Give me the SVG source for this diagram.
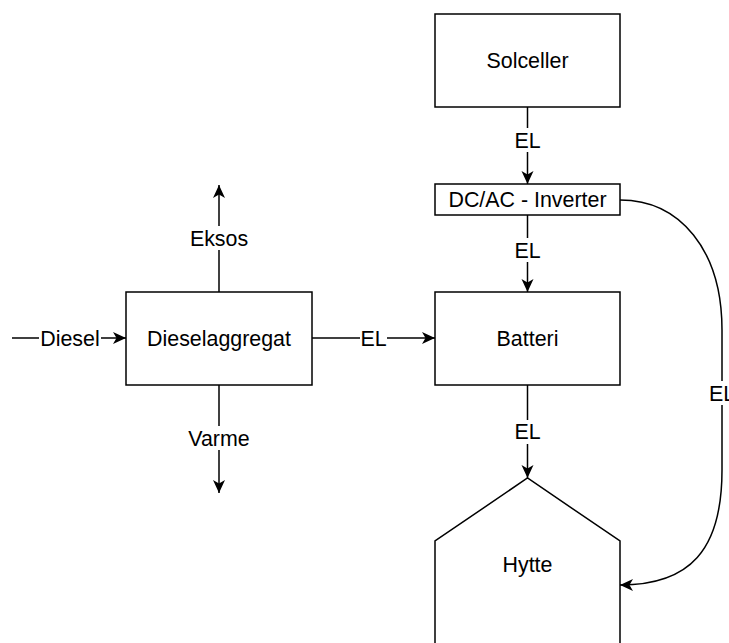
<svg xmlns="http://www.w3.org/2000/svg" width="729" height="643" viewBox="0 0 729 643">
<style>
.box{fill:#fff;stroke:#000;stroke-width:1.5}
.edge{fill:none;stroke:#000;stroke-width:1.5}
.t{font-family:"Liberation Sans",Arial,sans-serif;font-size:21.4px;fill:#000;text-anchor:middle}
.bg{fill:#fff}
</style>
<defs>
<marker id="arr" markerUnits="userSpaceOnUse" markerWidth="14" markerHeight="14" viewBox="-14 -7 14 14" refX="0" refY="0" orient="auto">
<path d="M0,0 L-13,-6 L-9.5,0 L-13,6 Z" fill="#000"/>
</marker>
</defs>
<g id="edges">
<path class="edge" d="M527.5,107 L527.5,184" marker-end="url(#arr)"/>
<path class="edge" d="M527.5,215 L527.5,292" marker-end="url(#arr)"/>
<path class="edge" d="M527.5,385 L527.5,478" marker-end="url(#arr)"/>
<path class="edge" d="M12,338 L126,338" marker-end="url(#arr)"/>
<path class="edge" d="M312,338 L435,338" marker-end="url(#arr)"/>
<path class="edge" d="M219,292 L219,185" marker-end="url(#arr)"/>
<path class="edge" d="M219,385 L219,493" marker-end="url(#arr)"/>
<path class="edge" d="M620,200 C680,200 722,250 722,330 L722,470 C722,550 690,585 620,585" marker-end="url(#arr)"/>
<rect class="bg" x="514" y="128" width="27" height="24"/>
<text class="t" x="527.5" y="147.7">EL</text>
<rect class="bg" x="514" y="238" width="27" height="24"/>
<text class="t" x="527.5" y="257.7">EL</text>
<rect class="bg" x="514" y="420" width="27" height="24"/>
<text class="t" x="527.5" y="439.4">EL</text>
<rect class="bg" x="39" y="326" width="62" height="24"/>
<text class="t" x="70" y="345.7">Diesel</text>
<rect class="bg" x="360" y="326" width="27" height="24"/>
<text class="t" x="373.5" y="345.7">EL</text>
<rect class="bg" x="189" y="226" width="60" height="24"/>
<text class="t" x="219" y="245.7">Eksos</text>
<rect class="bg" x="187" y="426" width="64" height="24"/>
<text class="t" x="219" y="445.7">Varme</text>
<rect class="bg" x="709" y="381" width="27" height="24"/>
<text class="t" x="722" y="400.7">EL</text>
</g>
<g id="solceller">
<rect class="box" x="435" y="14" width="185" height="93"/>
<text class="t" x="527.5" y="68">Solceller</text>
</g>
<g id="inverter">
<rect class="box" x="435" y="184" width="185" height="31"/>
<text class="t" x="527.5" y="207.2">DC/AC - Inverter</text>
</g>
<g id="batteri">
<rect class="box" x="435" y="292" width="185" height="93"/>
<text class="t" x="527.5" y="345.7">Batteri</text>
</g>
<g id="dieselaggregat">
<rect class="box" x="126" y="292" width="186" height="93"/>
<text class="t" x="219" y="345.7">Dieselaggregat</text>
</g>
<g id="hytte">
<path class="box" d="M435,660 L435,541 L527.5,478 L620,541 L620,660 Z"/>
<text class="t" x="527.5" y="571.7">Hytte</text>
</g>
</svg>
